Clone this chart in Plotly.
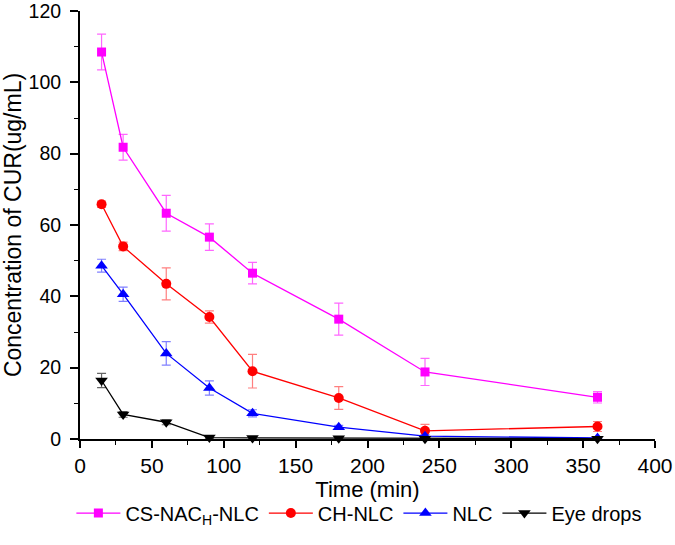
import plotly.graph_objects as go

time = [15, 30, 60, 90, 120, 180, 240, 360]

cs_nach_nlc = [108.5, 81.8, 63.3, 56.6, 46.5, 33.6, 18.8, 11.7]
cs_nach_nlc_err = [5.0, 3.6, 5.0, 3.7, 3.0, 4.5, 3.8, 1.6]

ch_nlc = [65.8, 54.0, 43.5, 34.2, 19.0, 11.5, 2.3, 3.5]
ch_nlc_err = [0.9, 1.2, 4.5, 1.7, 4.7, 3.2, 1.8, 1.4]

nlc = [48.6, 40.6, 24.0, 14.3, 7.2, 3.3, 0.8, 0.3]
nlc_err = [1.8, 2.0, 3.3, 2.0, 1.0, 0.5, 0.4, 0.2]

eye_drops = [16.4, 6.9, 4.7, 0.4, 0.3, 0.2, 0.1, 0.1]
eye_drops_err = [2.0, 0.8, 0.7, 0.2, 0.2, 0.1, 0.1, 0.1]

series = [
    ("CS-NAC<sub>H</sub>-NLC", cs_nach_nlc, cs_nach_nlc_err, "#FF00FF", "rgba(255,0,255,0.6)", "square", 9),
    ("CH-NLC", ch_nlc, ch_nlc_err, "#FF0000", "rgba(255,0,0,0.5)", "circle", 10),
    ("NLC", nlc, nlc_err, "#0000FF", "rgba(0,0,255,0.5)", "triangle-up", 11),
    ("Eye drops", eye_drops, eye_drops_err, "#000000", "rgba(0,0,0,0.6)", "triangle-down", 11),
]

fig = go.Figure()
for name, vals, errs, color, ecolor, sym, size in series:
    fig.add_trace(go.Scatter(
        x=time, y=vals, name=name, mode="lines+markers",
        line=dict(color=color, width=1.3),
        marker=dict(symbol=sym, size=size, color=color),
        error_y=dict(type="data", array=errs, visible=True, color=ecolor, thickness=1.2, width=4.5),
        cliponaxis=False,
    ))

font = "Liberation Sans, Arial, sans-serif"
fig.update_layout(
    width=675, height=545,
    margin=dict(l=80, r=20, t=11, b=106),
    paper_bgcolor="white", plot_bgcolor="white",
    font=dict(family=font, size=20, color="black"),
    showlegend=True,
    legend=dict(orientation="h", x=-0.015, xanchor="left", y=-0.173, yanchor="middle",
                font=dict(size=20), itemwidth=44, tracegroupgap=0),
    xaxis=dict(
        range=[0, 400], dtick=50, tick0=0, automargin=False,
        showline=True, linecolor="black", linewidth=2,
        ticks="outside", ticklen=7, tickwidth=1.5, tickcolor="black",
        minor=dict(ticks="outside", dtick=25, ticklen=4, tickwidth=1.3, tickcolor="black"),
        showgrid=False, zeroline=False, ticklabeloverflow="allow",
        title=dict(text="Time (min)", font=dict(size=22), standoff=4),
        tickfont=dict(size=21),
    ),
    yaxis=dict(
        range=[0, 120], dtick=20, tick0=0, automargin=False,
        showline=True, linecolor="black", linewidth=2,
        ticks="outside", ticklen=8, tickwidth=1.5, tickcolor="black",
        minor=dict(ticks="outside", dtick=10, ticklen=4, tickwidth=1.3, tickcolor="black"),
        showgrid=False, zeroline=False, ticklabeloverflow="allow",
        ticklabelstandoff=5,
        title=dict(text="Concentration of CUR(ug/mL)", font=dict(size=23), standoff=1),
        tickfont=dict(size=19.5),
    ),
)

fig.write_html("out.html", config={"displayModeBar": False},
               post_script="document.body.style.margin='0';")
